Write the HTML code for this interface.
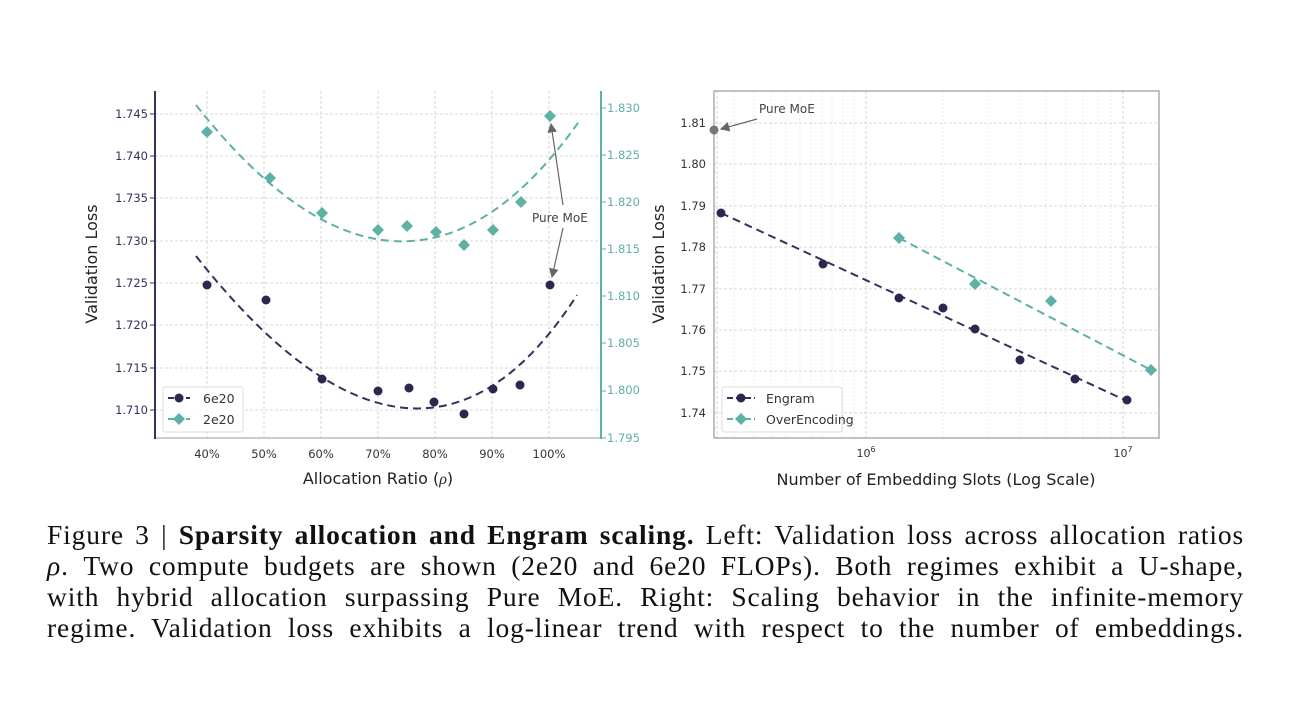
<!DOCTYPE html>
<html><head><meta charset="utf-8"><style>
body{margin:0;background:#fff;width:1290px;height:702px;overflow:hidden;position:relative}
svg{position:absolute;left:0;top:0}
.cap{position:absolute;left:47px;top:519px;width:1197px;font-family:"Liberation Serif",serif;font-size:27.5px;line-height:31px;color:#111;letter-spacing:0.85px}
.cap div{text-align:justify;text-align-last:justify;white-space:nowrap}
text{font-family:"DejaVu Sans","Liberation Sans",sans-serif}
</style></head><body>
<svg width="1290" height="510" viewBox="0 0 1290 510">
<defs>
<marker id="ar" markerWidth="8" markerHeight="8" refX="7" refY="4" orient="auto"><path d="M0,0 L8,4 L0,8 z" fill="#666"/></marker>
</defs>
<g stroke="#ccc" stroke-width="0.8" stroke-dasharray="3,2">
<line x1="207" y1="91" x2="207" y2="438"/><line x1="264" y1="91" x2="264" y2="438"/><line x1="321" y1="91" x2="321" y2="438"/><line x1="378" y1="91" x2="378" y2="438"/><line x1="435" y1="91" x2="435" y2="438"/><line x1="492" y1="91" x2="492" y2="438"/><line x1="549" y1="91" x2="549" y2="438"/>
<line x1="155" y1="114" x2="601" y2="114"/><line x1="155" y1="156" x2="601" y2="156"/><line x1="155" y1="198" x2="601" y2="198"/><line x1="155" y1="241" x2="601" y2="241"/><line x1="155" y1="283" x2="601" y2="283"/><line x1="155" y1="325" x2="601" y2="325"/><line x1="155" y1="368" x2="601" y2="368"/><line x1="155" y1="410" x2="601" y2="410"/>
</g>
<line x1="155" y1="438" x2="601" y2="438" stroke="#999" stroke-width="1"/>
<line x1="155" y1="91" x2="155" y2="439" stroke="#3a2f5b" stroke-width="2"/>
<line x1="601" y1="91" x2="601" y2="439" stroke="#5fb0a5" stroke-width="2"/>
<g font-size="11.5" fill="#3a2f5b" text-anchor="end">
<text x="148" y="118">1.745</text><text x="148" y="160">1.740</text><text x="148" y="202">1.735</text><text x="148" y="245">1.730</text><text x="148" y="287">1.725</text><text x="148" y="329">1.720</text><text x="148" y="372">1.715</text><text x="148" y="414">1.710</text>
</g>
<g stroke="#3a2f5b"><line x1="150" y1="114" x2="155" y2="114"/><line x1="150" y1="156" x2="155" y2="156"/><line x1="150" y1="198" x2="155" y2="198"/><line x1="150" y1="241" x2="155" y2="241"/><line x1="150" y1="283" x2="155" y2="283"/><line x1="150" y1="325" x2="155" y2="325"/><line x1="150" y1="368" x2="155" y2="368"/><line x1="150" y1="410" x2="155" y2="410"/></g>
<g font-size="11.5" fill="#5fb0a5">
<text x="607" y="112">1.830</text><text x="607" y="159">1.825</text><text x="607" y="206">1.820</text><text x="607" y="253">1.815</text><text x="607" y="300">1.810</text><text x="607" y="347">1.805</text><text x="607" y="394">1.800</text><text x="607" y="442">1.795</text>
</g>
<g stroke="#5fb0a5"><line x1="601" y1="108" x2="606" y2="108"/><line x1="601" y1="155" x2="606" y2="155"/><line x1="601" y1="202" x2="606" y2="202"/><line x1="601" y1="249" x2="606" y2="249"/><line x1="601" y1="296" x2="606" y2="296"/><line x1="601" y1="343" x2="606" y2="343"/><line x1="601" y1="391" x2="606" y2="391"/><line x1="601" y1="438" x2="606" y2="438"/></g>
<g font-size="11.5" fill="#333" text-anchor="middle">
<text x="207" y="458">40%</text><text x="264" y="458">50%</text><text x="321" y="458">60%</text><text x="378" y="458">70%</text><text x="435" y="458">80%</text><text x="492" y="458">90%</text><text x="549" y="458">100%</text>
</g>
<text x="378" y="484" font-size="16" fill="#222" text-anchor="middle">Allocation Ratio (<tspan font-style="italic" font-family="Liberation Serif">ρ</tspan>)</text>
<text transform="translate(97,264) rotate(-90)" font-size="16" fill="#222" text-anchor="middle">Validation Loss</text>
<text transform="translate(664,264) rotate(-90)" font-size="16" fill="#222" text-anchor="middle">Validation Loss</text>
<path d="M196,256 Q420,540 577,295" fill="none" stroke="#3a2f5b" stroke-width="2" stroke-dasharray="8,5"/>
<path d="M196,105 Q405,370 580,120" fill="none" stroke="#5fb0a5" stroke-width="2" stroke-dasharray="8,5"/>
<g fill="#2f2650">
<circle cx="207" cy="285" r="4.5"/><circle cx="266" cy="300" r="4.5"/><circle cx="322" cy="379" r="4.5"/><circle cx="378" cy="391" r="4.5"/><circle cx="409" cy="388" r="4.5"/><circle cx="434" cy="402" r="4.5"/><circle cx="464" cy="414" r="4.5"/><circle cx="493" cy="389" r="4.5"/><circle cx="520" cy="385" r="4.5"/><circle cx="550" cy="285" r="4.5"/>
</g>
<g fill="#5fb0a5">
<path d="M207,126 l6,6 l-6,6 l-6,-6z"/><path d="M270,172 l6,6 l-6,6 l-6,-6z"/><path d="M322,207 l6,6 l-6,6 l-6,-6z"/><path d="M378,224 l6,6 l-6,6 l-6,-6z"/><path d="M407,220 l6,6 l-6,6 l-6,-6z"/><path d="M436,226 l6,6 l-6,6 l-6,-6z"/><path d="M464,239 l6,6 l-6,6 l-6,-6z"/><path d="M493,224 l6,6 l-6,6 l-6,-6z"/><path d="M521,196 l6,6 l-6,6 l-6,-6z"/><path d="M550,110 l6,6 l-6,6 l-6,-6z"/>
</g>
<text x="532" y="222" font-size="12" fill="#444">Pure MoE</text>
<line x1="563" y1="205" x2="551" y2="124" stroke="#666" stroke-width="1.2" marker-end="url(#ar)"/>
<line x1="563" y1="228" x2="552" y2="277" stroke="#666" stroke-width="1.2" marker-end="url(#ar)"/>
<rect x="163" y="387" width="80" height="45" fill="#fff" fill-opacity="0.85" stroke="#ddd" rx="2"/>
<line x1="168" y1="398" x2="190" y2="398" stroke="#3a2f5b" stroke-width="2" stroke-dasharray="6,3"/><circle cx="179" cy="398" r="4.5" fill="#2f2650"/>
<text x="203" y="403" font-size="12.5" fill="#333">6e20</text>
<line x1="168" y1="419" x2="190" y2="419" stroke="#5fb0a5" stroke-width="2" stroke-dasharray="6,3"/><path d="M179,413 l6,6 l-6,6 l-6,-6z" fill="#5fb0a5"/>
<text x="203" y="424" font-size="12.5" fill="#333">2e20</text>

<g stroke="#e4e4e4" stroke-width="0.7" stroke-dasharray="2,2">
<line x1="734" y1="91" x2="734" y2="438"/><line x1="754" y1="91" x2="754" y2="438"/><line x1="771" y1="91" x2="771" y2="438"/><line x1="786" y1="91" x2="786" y2="438"/><line x1="800" y1="91" x2="800" y2="438"/><line x1="811" y1="91" x2="811" y2="438"/><line x1="822" y1="91" x2="822" y2="438"/><line x1="832" y1="91" x2="832" y2="438"/><line x1="843" y1="91" x2="843" y2="438"/><line x1="854" y1="91" x2="854" y2="438"/>
<line x1="943" y1="91" x2="943" y2="438"/><line x1="988" y1="91" x2="988" y2="438"/><line x1="1020" y1="91" x2="1020" y2="438"/><line x1="1046" y1="91" x2="1046" y2="438"/><line x1="1066" y1="91" x2="1066" y2="438"/><line x1="1083" y1="91" x2="1083" y2="438"/><line x1="1098" y1="91" x2="1098" y2="438"/><line x1="1111" y1="91" x2="1111" y2="438"/>
</g>
<g stroke="#ccc" stroke-width="0.8" stroke-dasharray="3,2">
<line x1="717" y1="91" x2="717" y2="438"/><line x1="866" y1="91" x2="866" y2="438"/><line x1="1123" y1="91" x2="1123" y2="438"/>
<line x1="714" y1="123" x2="1159" y2="123"/><line x1="714" y1="164" x2="1159" y2="164"/><line x1="714" y1="206" x2="1159" y2="206"/><line x1="714" y1="247" x2="1159" y2="247"/><line x1="714" y1="289" x2="1159" y2="289"/><line x1="714" y1="330" x2="1159" y2="330"/><line x1="714" y1="371" x2="1159" y2="371"/><line x1="714" y1="413" x2="1159" y2="413"/>
</g>
<rect x="714" y="91" width="445" height="347" fill="none" stroke="#999" stroke-width="1.2"/>
<g font-size="11.5" fill="#333" text-anchor="end">
<text x="706" y="127">1.81</text><text x="706" y="168">1.80</text><text x="706" y="210">1.79</text><text x="706" y="251">1.78</text><text x="706" y="293">1.77</text><text x="706" y="334">1.76</text><text x="706" y="375">1.75</text><text x="706" y="417">1.74</text>
</g>
<g font-size="11" fill="#333" text-anchor="middle">
<text x="866" y="457">10<tspan font-size="8" dy="-5">6</tspan></text><text x="1123" y="457">10<tspan font-size="8" dy="-5">7</tspan></text>
</g>
<text x="936" y="485" font-size="16" fill="#222" text-anchor="middle">Number of Embedding Slots (Log Scale)</text>
<line x1="721" y1="213" x2="1127" y2="401" stroke="#3a2f5b" stroke-width="2" stroke-dasharray="8,5"/>
<line x1="899" y1="238" x2="1151" y2="370" stroke="#5fb0a5" stroke-width="2" stroke-dasharray="8,5"/>
<g fill="#2f2650">
<circle cx="721" cy="213" r="4.5"/><circle cx="823" cy="264" r="4.5"/><circle cx="899" cy="298" r="4.5"/><circle cx="943" cy="308" r="4.5"/><circle cx="975" cy="329" r="4.5"/><circle cx="1020" cy="360" r="4.5"/><circle cx="1075" cy="379" r="4.5"/><circle cx="1127" cy="400" r="4.5"/>
</g>
<g fill="#5fb0a5">
<path d="M899,232 l6,6 l-6,6 l-6,-6z"/><path d="M975,278 l6,6 l-6,6 l-6,-6z"/><path d="M1051,295 l6,6 l-6,6 l-6,-6z"/><path d="M1151,364 l6,6 l-6,6 l-6,-6z"/>
</g>
<circle cx="714" cy="130" r="4.5" fill="#777"/>
<text x="759" y="113" font-size="12" fill="#444">Pure MoE</text>
<line x1="757" y1="119" x2="721" y2="129" stroke="#666" stroke-width="1.2" marker-end="url(#ar)"/>
<rect x="722" y="387" width="120" height="45" fill="#fff" fill-opacity="0.85" stroke="#ddd" rx="2"/>
<line x1="727" y1="398" x2="755" y2="398" stroke="#3a2f5b" stroke-width="2" stroke-dasharray="6,3"/><circle cx="741" cy="398" r="4.5" fill="#2f2650"/>
<text x="766" y="403" font-size="12.5" fill="#333">Engram</text>
<line x1="727" y1="419" x2="755" y2="419" stroke="#5fb0a5" stroke-width="2" stroke-dasharray="6,3"/><path d="M741,413 l6,6 l-6,6 l-6,-6z" fill="#5fb0a5"/>
<text x="766" y="424" font-size="12.5" fill="#333">OverEncoding</text>
</svg>
<div class="cap">
<div>Figure 3 | <b>Sparsity allocation and Engram scaling.</b> Left: Validation loss across allocation ratios</div>
<div><i>ρ</i>. Two compute budgets are shown (2e20 and 6e20 FLOPs). Both regimes exhibit a U-shape,</div>
<div>with hybrid allocation surpassing Pure MoE. Right: Scaling behavior in the infinite-memory</div>
<div>regime. Validation loss exhibits a log-linear trend with respect to the number of embeddings.</div>
</div>
</body></html>
